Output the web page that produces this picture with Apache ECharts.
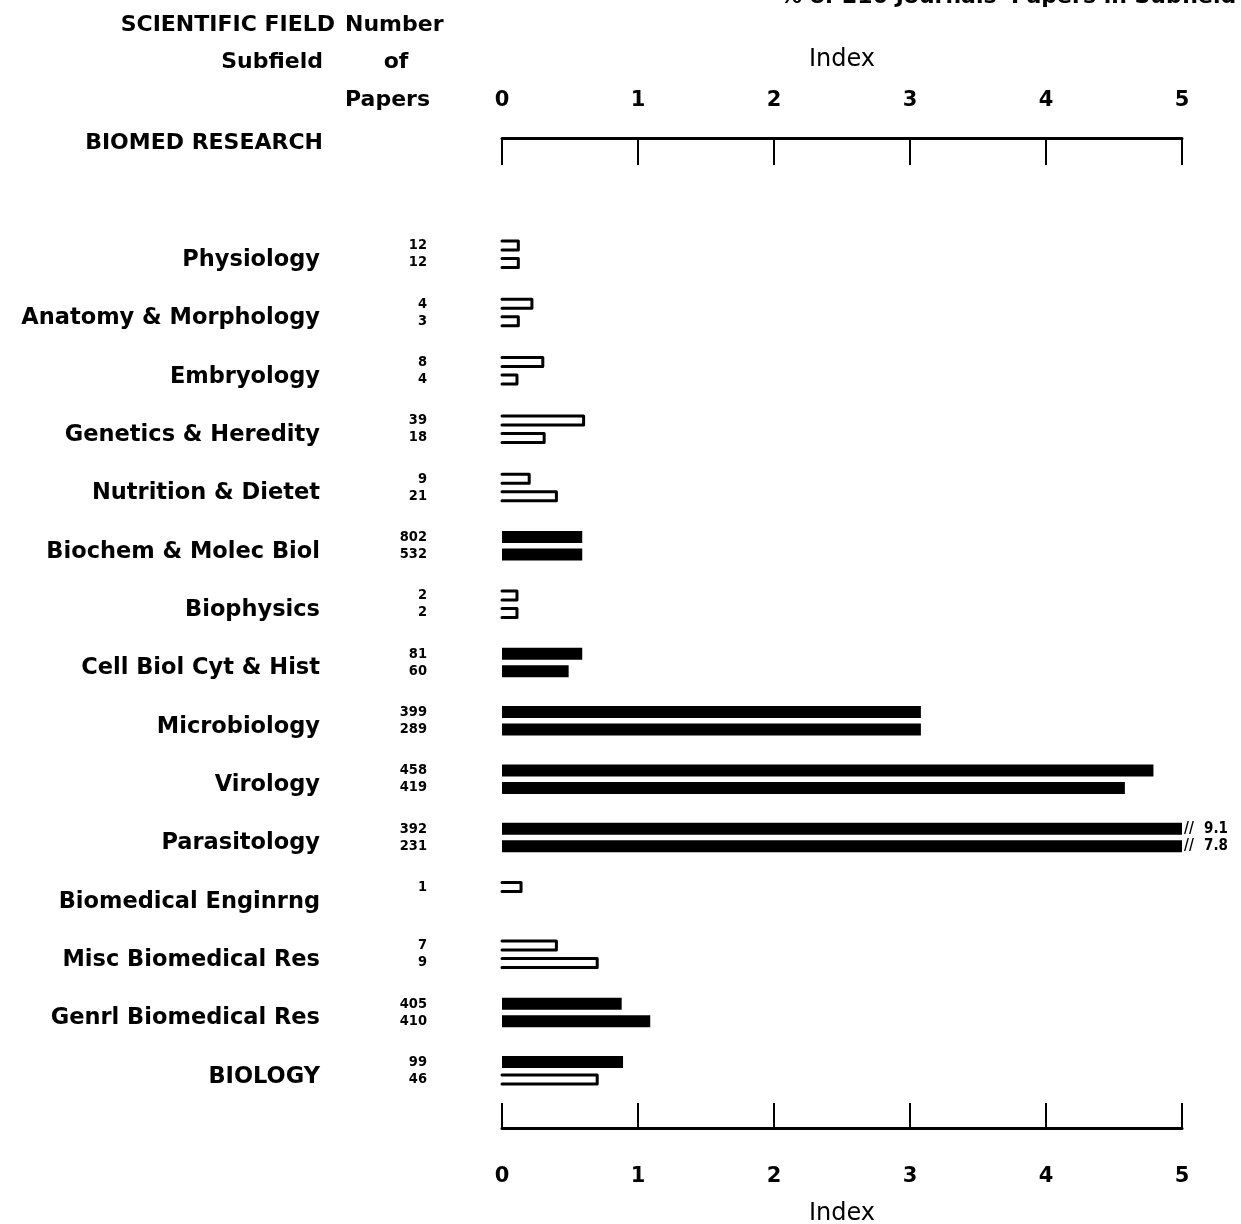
<!DOCTYPE html>
<html>
<head>
<meta charset="utf-8">
<script src="https://cdn.jsdelivr.net/npm/echarts@6/dist/echarts.min.js"></script>
<style>html,body{margin:0;padding:0;background:#fff;overflow:hidden;}#c{width:1241px;height:1224px;}</style>
</head>
<body>
<div id="c"></div>
<script>
const categories = ["Physiology","Anatomy & Morphology","Embryology","Genetics & Heredity","Nutrition & Dietet","Biochem & Molec Biol","Biophysics","Cell Biol Cyt & Hist","Microbiology","Virology","Parasitology","Biomedical Enginrng","Misc Biomedical Res","Genrl Biomedical Res","BIOLOGY"];
const upperIndex = [0.12,0.22,0.30,0.60,0.20,0.59,0.11,0.59,3.08,4.79,9.1,0.14,0.40,0.88,0.89];
const lowerIndex = [0.12,0.12,0.11,0.31,0.40,0.59,0.11,0.49,3.08,4.58,7.8,null,0.70,1.09,0.70];
const upperPapers = [12,4,8,39,9,802,2,81,399,458,392,1,7,405,99];
const lowerPapers = [12,3,4,18,21,532,2,60,289,419,231,null,9,410,46];
const xTicks = [0,1,2,3,4,5];
const FILL_THRESHOLD = 50;

const XMAX = xTicks[xTicks.length-1];
const FONT = "DejaVu Sans";
const NUMFONT = "DejaVu Sans Condensed, DejaVu Sans";

function makeSeries(vals, papers, slot){
  const data = vals.map((v,i)=> v==null ? null : [v, i, papers[i]]);
  return {
    type:'custom',
    xAxisIndex:0, yAxisIndex:0,
    encode:{x:0,y:1},
    data: data.filter(d=>d!==null),
    clip:false,
    renderItem:function(params, api){
      const v = api.value(0), cat = api.value(1), p = api.value(2);
      const dv = Math.min(v, XMAX);
      const s = api.coord([0, cat]);
      const e = api.coord([dv, cat]);
      const yc = s[1] + slot*8.75;
      const h = 12;
      const children = [];
      if (p >= FILL_THRESHOLD){
        children.push({type:'rect', shape:{x:s[0], y:yc-h/2, width:e[0]-s[0], height:h}, style:{fill:'#000'}});
      } else {
        const t = yc-h/2+1.5, b = yc+h/2-1.5;
        children.push({type:'polyline', shape:{points:[[s[0],t],[e[0],t],[e[0],b],[s[0],b]]}, style:{stroke:'#000', lineWidth:3, fill:null, lineJoin:'round', lineCap:'round'}});
      }
      if (v > XMAX){
        children.push({type:'text', x:e[0]+2, y:yc, style:{text:'//', font:'bold 15px '+NUMFONT, fill:'#000', verticalAlign:'middle', align:'left'}});
        children.push({type:'text', x:e[0]+22, y:yc, style:{text:String(v), font:'bold 15px '+NUMFONT, fill:'#000', verticalAlign:'middle', align:'left'}});
      }
      return {type:'group', children};
    }
  };
}

const chart = echarts.init(document.getElementById('c'), null, {renderer:'canvas'});
const axisCommon = {
  type:'value', min:0, max:XMAX, interval:1,
  splitLine:{show:false},
  axisLine:{show:true, lineStyle:{color:'#000', width:3}},
  axisTick:{show:true, inside:true, lineStyle:{color:'#000', width:2}},
  axisLabel:{color:'#000', fontFamily:FONT, fontSize:21, fontWeight:'bold'},
  nameLocation:'middle',
  nameTextStyle:{color:'#000', fontFamily:FONT, fontSize:24}
};
chart.setOption({
  animation:false,
  backgroundColor:'#fff',
  grid:{left:502, width:680, top:225, height:875, containLabel:false, outerBoundsMode:'none'},
  xAxis:[
    Object.assign({}, axisCommon, {position:'top', offset:87, name:'Index', nameGap:66,
      axisTick:{show:true, inside:true, length:27, lineStyle:{color:'#000', width:2}},
      axisLabel:Object.assign({}, axisCommon.axisLabel, {margin:27})}),
    Object.assign({}, axisCommon, {position:'bottom', offset:28, name:'Index', nameGap:74,
      axisTick:{show:true, inside:true, length:25, lineStyle:{color:'#000', width:2}},
      axisLabel:Object.assign({}, axisCommon.axisLabel, {margin:38})})
  ],
  yAxis:[
    {type:'category', data:categories, inverse:true,
     axisLine:{show:false}, axisTick:{show:false}, splitLine:{show:false},
     axisLabel:{margin:182, color:'#000',
       formatter:function(val){ return '{a|' + val + '}'; },
       rich:{a:{fontFamily:FONT, fontSize:22.5, fontWeight:'bold', color:'#000', padding:[12,0,0,0]}}}},
    {type:'category', data:categories, inverse:true, position:'left',
     axisLine:{show:false}, axisTick:{show:false}, splitLine:{show:false},
     axisLabel:{margin:75, color:'#000', fontFamily:NUMFONT, fontSize:14.5, fontWeight:'bold', lineHeight:17, align:'right',
       formatter:function(val, idx){
         const u = upperPapers[idx], l = lowerPapers[idx];
         return (u==null?' ':String(u)) + '\n' + (l==null?' ':String(l));
       }}}
  ],
  graphic:[
    {type:'text', left:780, top:-14, style:{text:"% of 210 Journals' Papers in Subfield", font:'bold 22px '+FONT, fill:'#000'}},
    {type:'text', x:335, y:25, style:{text:'SCIENTIFIC FIELD', font:'bold 22px '+FONT, fill:'#000', align:'right', verticalAlign:'middle'}},
    {type:'text', x:345, y:25, style:{text:'Number', font:'bold 22px '+FONT, fill:'#000', align:'left', verticalAlign:'middle'}},
    {type:'text', x:323, y:62, style:{text:'Subfield', font:'bold 22px '+FONT, fill:'#000', align:'right', verticalAlign:'middle'}},
    {type:'text', x:396, y:62, style:{text:'of', font:'bold 22px '+FONT, fill:'#000', align:'center', verticalAlign:'middle'}},
    {type:'text', x:345, y:100, style:{text:'Papers', font:'bold 22px '+FONT, fill:'#000', align:'left', verticalAlign:'middle'}},
    {type:'text', x:323, y:143, style:{text:'BIOMED RESEARCH', font:'bold 22px '+FONT, fill:'#000', align:'right', verticalAlign:'middle'}}
  ],
  series:[ makeSeries(upperIndex, upperPapers, -1), makeSeries(lowerIndex, lowerPapers, 1) ]
});
</script>
</body>
</html>
